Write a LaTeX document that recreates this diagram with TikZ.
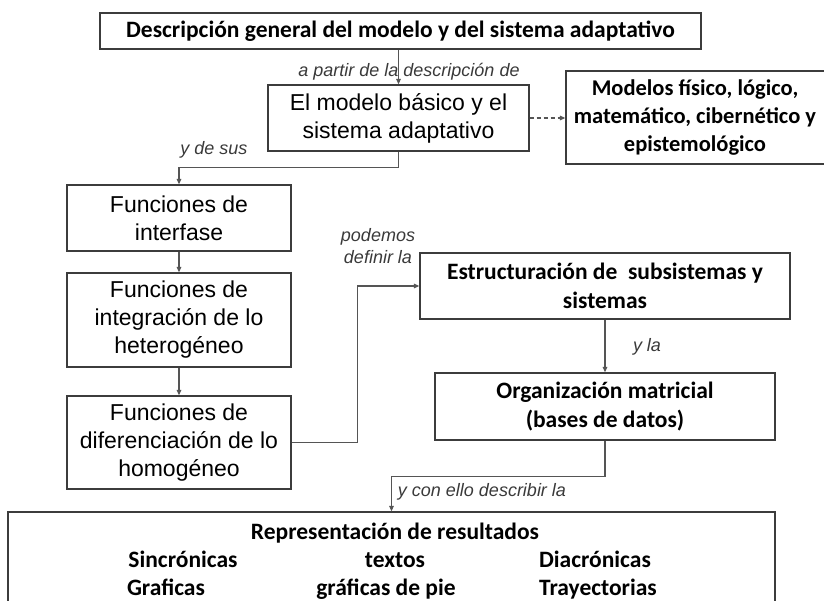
\documentclass[tikz,border=0pt]{standalone}
\usepackage{fontspec}
\setmainfont{Liberation Sans}
\newfontfamily\calfont{Carlito}
\usetikzlibrary{arrows.meta}
\definecolor{boxgray}{HTML}{3C3C3C}
\definecolor{linegray}{HTML}{555555}
\definecolor{lblgray}{HTML}{3A3A3A}
\begin{document}
\begin{tikzpicture}[x=1pt,y=-1pt,
  box/.style={draw=boxgray, line width=1.2pt, align=center, inner sep=0pt, text=black},
  reg/.style={font=\fontsize{23}{28}\selectfont},
  bld/.style={font=\calfont\bfseries\fontsize{23.5}{28.5}\selectfont},
  lbl/.style={font=\itshape\fontsize{18}{22}\selectfont, text=lblgray, inner sep=0pt, align=center},
  cell/.style={font=\calfont\bfseries\fontsize{23.5}{28}\selectfont, inner sep=0pt, text=black, anchor=base},
  conn/.style={draw=linegray, line width=1.2pt, -{Triangle[length=5.5pt,width=4.5pt]}},
]
\clip (0,0) rectangle (824,601);
\useasboundingbox (0,0) rectangle (824,601);
\fill[white] (0,0) rectangle (824,601);

% boxes
\node[box,bld,minimum width=601pt,minimum height=36pt] (top) at (400.5,31) {Descripción general del modelo y del sistema adaptativo};
\node[box,reg,minimum width=261pt,minimum height=66pt] (b2) at (398.5,118) {El modelo básico y el\\sistema adaptativo};
\node[box,minimum width=268pt,minimum height=93pt] (b3) at (700,117.5) {};
\node[align=center, inner sep=0pt, font=\calfont\bfseries\fontsize{22.5}{28}\selectfont] (b3t) at (695,118) {Modelos físico, lógico,\\matemático, cibernético y\\epistemológico};
\node[box,reg,minimum width=224pt,minimum height=66pt] (b4) at (179,218) {Funciones de\\interfase};
\node[box,reg,minimum width=224pt,minimum height=94pt] (b5) at (179,320) {Funciones de\\integración de lo\\heterogéneo};
\node[box,reg,minimum width=224pt,minimum height=93pt] (b6) at (179,442.5) {Funciones de\\diferenciación de lo\\homogéneo};
\node[box,bld,minimum width=370pt,minimum height=66pt] (b7) at (605,286) {Estructuración de\ \ subsistemas y\\sistemas};
\node[box,bld,minimum width=340pt,minimum height=67pt] (b8) at (605,406.5) {Organización matricial\\(bases de datos)};
\node[box,minimum width=767pt,minimum height=108pt] (b9) at (391.5,566) {};

% contents of the results box
\node[cell] (r0) at (395,539) {Representación de resultados};
\node[cell] (r1) at (183,567) {Sincrónicas};
\node[cell] (r2) at (395,567) {textos};
\node[cell] (r3) at (595,567) {Diacrónicas};
\node[cell] (r4) at (166,595) {Graficas};
\node[cell] (r5) at (386,595) {gráficas de pie};
\node[cell] (r6) at (598,595) {Trayectorias};

% connectors
\draw[conn] (b2.north |- top.south) -- (b2.north);
\draw[conn,dashed,dash pattern=on 4pt off 3pt] (b2.east) -- (b2.east -| b3.west);
\draw[conn] (b2.south) -- ++(0,16) -| (b4.north);
\draw[conn] (b4) -- (b5);
\draw[conn] (b5) -- (b6);
\draw[conn] (b6.east) -- ++(66,0) |- (b7.west);
\draw[conn] (b7) -- (b8);
\draw[conn] (b8.south) -- ++(0,36) -| (b9.north);

% labels
\node[lbl] (l1) at (409,72) {a partir de la descripción de};
\node[lbl] (l2) at (214,150) {y de sus};
\node[lbl] (l3) at (378,246) {podemos\\definir la};
\node[lbl] (l4) at (647,347) {y la};
\node[lbl] (l5) at (482,492) {y con ello describir la};
\end{tikzpicture}
\end{document}
